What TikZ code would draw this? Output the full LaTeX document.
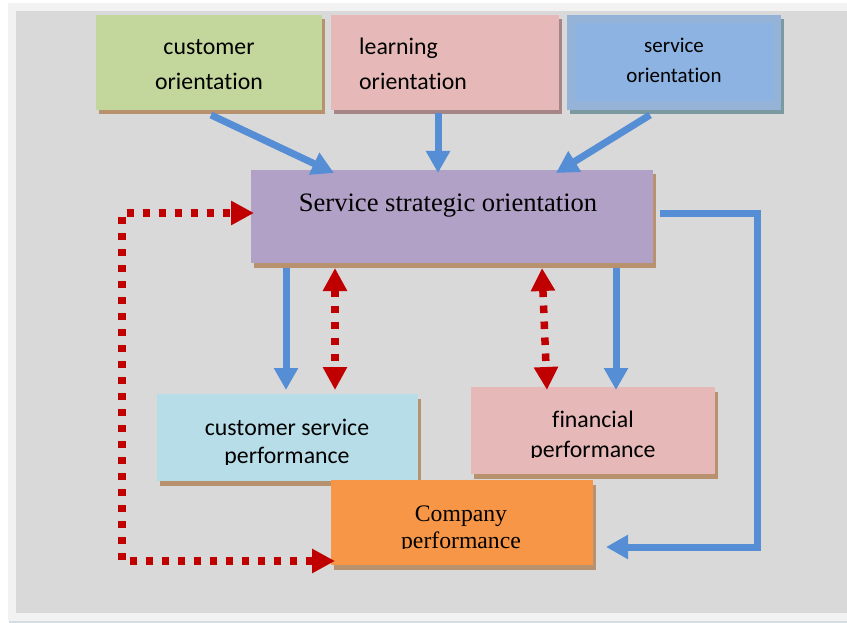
\documentclass[tikz,border=0pt]{standalone}
\usepackage{fontspec}
\setmainfont{Liberation Serif}
\newfontfamily\carlito[Ligatures=NoCommon]{Carlito}
\usetikzlibrary{arrows.meta,calc,shadows}

\definecolor{pagegray}{HTML}{F2F2F2}
\definecolor{panelgray}{HTML}{D9D9D9}
\definecolor{edgeline}{HTML}{D3DDE2}
\definecolor{custgreen}{HTML}{C3D69B}
\definecolor{rosepink}{HTML}{E6B9B8}
\definecolor{svcframe}{HTML}{95B3D7}
\definecolor{svcfill}{HTML}{8DB3E2}
\definecolor{lavender}{HTML}{B2A1C7}
\definecolor{paleblue}{HTML}{B7DEE8}
\definecolor{orangebox}{HTML}{F79646}
\definecolor{shbrown}{HTML}{B8916F}
\definecolor{shmauve}{HTML}{A58586}
\definecolor{shteal}{HTML}{7B99A1}
\definecolor{linkblue}{HTML}{558ED5}
\definecolor{linkred}{HTML}{C00000}

\begin{document}
\begin{tikzpicture}[x=1pt,y=-1pt,
  box/.style={rectangle, inner sep=0pt, outer sep=0pt, draw=none},
  sh/.style={general shadow={fill=#1, shadow xshift=3pt, shadow yshift=-4.5pt}},
  sanstxt/.style={font=\carlito\fontsize{23.8}{28}\selectfont, inner sep=0pt, anchor=base},
  smallsans/.style={font=\carlito\fontsize{21}{25}\selectfont, inner sep=0pt, anchor=base},
  serifbig/.style={font=\fontsize{26.6}{30}\selectfont, inner sep=0pt, anchor=base},
  seriftxt/.style={font=\fontsize{23.7}{28}\selectfont, inner sep=0pt, anchor=base},
  bluearrow/.style={draw=linkblue, line width=7pt, -{Triangle[width=23pt,length=22pt]}},
  redarrow/.style={draw=linkred, line width=7.5pt, dash pattern=on 7.5pt off 8.5pt,
    {Triangle[width=23pt,length=23pt]}-{Triangle[width=23pt,length=23pt]}}
]
% page and panel
\useasboundingbox (0,0) rectangle (847,623);
\fill[white] (0,0) rectangle (847,623);
\fill[pagegray] (8,3) rectangle (847,621);
\draw[edgeline, line width=1.2pt] (9,622) -- (847,622);
\fill[panelgray] (16,11) rectangle (847,613);

% top row
\node[box, sh=shbrown, fill=custgreen, minimum width=226pt, minimum height=95pt] (cust) at (209,62.5) {};
\node[box, sh=shmauve, fill=rosepink, minimum width=228pt, minimum height=95pt] (learn) at (445,62.5) {};
\node[box, sh=shteal, fill=svcframe, minimum width=214pt, minimum height=95pt] (svc) at (674,62.5) {};
\fill[svcfill] ($(svc.north west)+(8,8)$) rectangle ($(svc.south east)+(-7,-9)$);

\node[sanstxt] (cust1) at (209,55) {customer};
\node[sanstxt] (cust2) at (209,90) {orientation};
\node[sanstxt, anchor=base west] (learn1) at (359,55) {learning};
\node[sanstxt, anchor=base west] (learn2) at (359,90) {orientation};
\node[smallsans] (svc1) at (674,53) {service};
\node[smallsans] (svc2) at (674,83) {orientation};

% central box
\node[box, sh=shbrown, fill=lavender, minimum width=402pt, minimum height=93pt] (sso) at (452,216.5) {};
\node[serifbig] (ssotxt) at (448,212) {Service strategic orientation};

% performance boxes
\node[box, sh=shbrown, fill=paleblue, minimum width=261pt, minimum height=87pt] (cs) at (287.5,437.5) {};
\node[box, sh=shbrown, fill=rosepink, minimum width=244pt, minimum height=87pt] (fin) at (593,430.5) {};
\node[box, sh=shbrown, fill=orangebox, minimum width=262pt, minimum height=85pt] (comp) at (462,522.5) {};

\begin{scope}
  \clip (cs.north west) rectangle ($(cs.south east)+(0,-17)$);
  \node[sanstxt] (cs1) at (287,435) {customer service};
  \node[sanstxt] (cs2) at (287,463) {performance};
\end{scope}
\begin{scope}
  \clip (fin.north west) rectangle ($(fin.south east)+(0,-16.5)$);
  \node[sanstxt] (fin1) at (593,427) {financial};
  \node[sanstxt] (fin2) at (593,457) {performance};
\end{scope}
\begin{scope}
  \clip (comp.north west) rectangle ($(comp.south east)+(0,-16.5)$);
  \node[seriftxt] (comp1) at (461,521) {Company};
  \node[seriftxt] (comp2) at (461,548) {performance};
\end{scope}

% blue links
\draw[bluearrow] ($(cust.south)+(2,5)$) -- ($(sso.north west)+(83,3)$);
\draw[bluearrow] ($(learn.south)+(-7,3)$) -- ($(sso.north west)+(187,3)$);
\draw[bluearrow] ($(svc.south)+(-24,5)$) -- ($(sso.north east)+(-97,3)$);
\draw[bluearrow] ($(sso.south west)+(35,5)$) -- ($(cs.north west)+(129,-4)$);
\draw[bluearrow] ($(sso.south west)+(365,5)$) -- ($(fin.north west)+(145,3)$);
\draw[bluearrow] ($(sso.east)+(7,-2.5)$) -| ($(fin.east)+(42,0)$) |- ($(comp.south east)+(13,-18)$);

% red dotted two-way links
\draw[redarrow] ($(sso.south west)+(84,5)$) -- ($(cs.north west)+(178,-4)$);
\draw[redarrow] ($(sso.south west)+(291,5)$) -- ($(fin.north west)+(76,3)$);
\draw[redarrow] ($(comp.south west)+(4,-4)$) -| ($(cs.west)+(-35,0)$) |- ($(sso.west)+(3,-3.5)$);
\end{tikzpicture}
\end{document}
